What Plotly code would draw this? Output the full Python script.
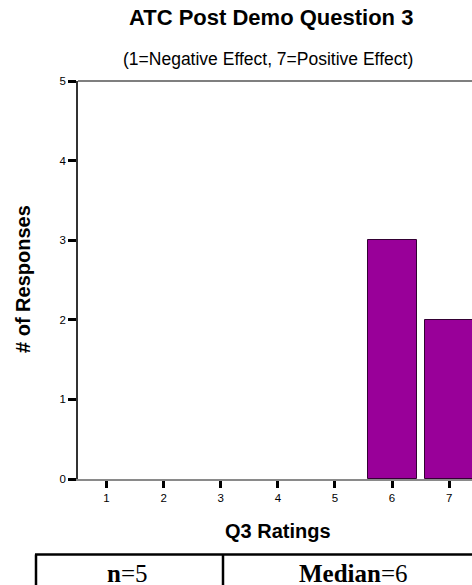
import plotly.graph_objects as go

ratings = [1, 2, 3, 4, 5, 6, 7]
responses = [0, 0, 0, 0, 0, 3, 2]
x_tick_labels = ["1", "2", "3", "4", "5", "6", "7"]
y_ticks = [0, 1, 2, 3, 4, 5]
n_value = 5
median_value = 6

W, H = 472, 585
PLOT_L, PLOT_R, PLOT_T, PLOT_B = 78, 472, 81, 479

def px_x(p):
    return (p - PLOT_L) / (PLOT_R - PLOT_L)

def px_y(p):
    return (PLOT_B - p) / (PLOT_B - PLOT_T)

fig = go.Figure()
fig.add_trace(go.Bar(
    x=ratings, y=[v if v > 0 else None for v in responses], width=0.86,
    marker=dict(color="#990099", line=dict(color="#330033", width=1)),
    showlegend=False, hoverinfo="skip",
))

fig.update_layout(
    width=W, height=H,
    margin=dict(l=PLOT_L, r=W - PLOT_R, t=PLOT_T, b=H - PLOT_B, pad=0),
    paper_bgcolor="white", plot_bgcolor="white",
    font=dict(family="Arial, Liberation Sans, sans-serif", color="black"),
    xaxis=dict(
        range=[0.5, 7.4], tickmode="array", tickvals=ratings, ticktext=x_tick_labels,
        ticks="outside", ticklen=7, tickwidth=3, tickcolor="black",
        showline=True, linecolor="#8a8a8a", linewidth=1.5,
        showgrid=False, zeroline=False, tickfont=dict(size=11.5),
    ),
    yaxis=dict(
        range=[0, 5], tickmode="array", tickvals=y_ticks,
        ticks="outside", ticklen=8, tickwidth=3, tickcolor="black",
        showline=True, linecolor="#333333", linewidth=1.5,
        showgrid=False, zeroline=False, tickfont=dict(size=11.5),
    ),
    bargap=0,
)

# top frame line
fig.add_shape(type="line", xref="paper", yref="paper", x0=0, x1=1, y0=1, y1=1,
              line=dict(color="#555555", width=1.5))

# titles
fig.add_annotation(text="<b>ATC Post Demo Question 3</b>", xref="paper", yref="paper",
                   x=px_x(270.5), y=px_y(18), showarrow=False,
                   font=dict(size=22), xanchor="center", yanchor="middle")
fig.add_annotation(text="(1=Negative Effect, 7=Positive Effect)", xref="paper", yref="paper",
                   x=px_x(268), y=px_y(59), showarrow=False,
                   font=dict(size=17.5), xanchor="center", yanchor="middle")
fig.add_annotation(text="<b># of Responses</b>", xref="paper", yref="paper",
                   x=px_x(23), y=px_y(279), showarrow=False, textangle=-90,
                   font=dict(size=20), xanchor="center", yanchor="middle")
fig.add_annotation(text="<b>Q3 Ratings</b>", xref="paper", yref="paper",
                   x=px_x(278), y=px_y(531), showarrow=False,
                   font=dict(size=20), xanchor="center", yanchor="middle")

# summary table box
fig.add_shape(type="line", xref="paper", yref="paper", x0=px_x(35), x1=px_x(480),
              y0=px_y(554.5), y1=px_y(554.5), line=dict(color="black", width=2.5))
fig.add_shape(type="line", xref="paper", yref="paper", x0=px_x(36), x1=px_x(36),
              y0=px_y(554.5), y1=px_y(590), line=dict(color="black", width=2.5))
fig.add_shape(type="line", xref="paper", yref="paper", x0=px_x(223), x1=px_x(223),
              y0=px_y(554.5), y1=px_y(590), line=dict(color="black", width=2.5))

serif = "Liberation Serif, Times New Roman, serif"
fig.add_annotation(text=f"<b>n</b>={n_value}", xref="paper", yref="paper",
                   x=px_x(127), y=px_y(573.5), showarrow=False,
                   font=dict(size=25, family=serif),
                   xanchor="center", yanchor="middle")
fig.add_annotation(text=f"<b>Median</b>={median_value}", xref="paper", yref="paper",
                   x=px_x(353), y=px_y(573.5), showarrow=False,
                   font=dict(size=25, family=serif),
                   xanchor="center", yanchor="middle")

fig.write_html(
    "out.html",
    config={"displayModeBar": False},
    post_script="document.body.style.margin='0';document.body.style.overflow='hidden';",
)
